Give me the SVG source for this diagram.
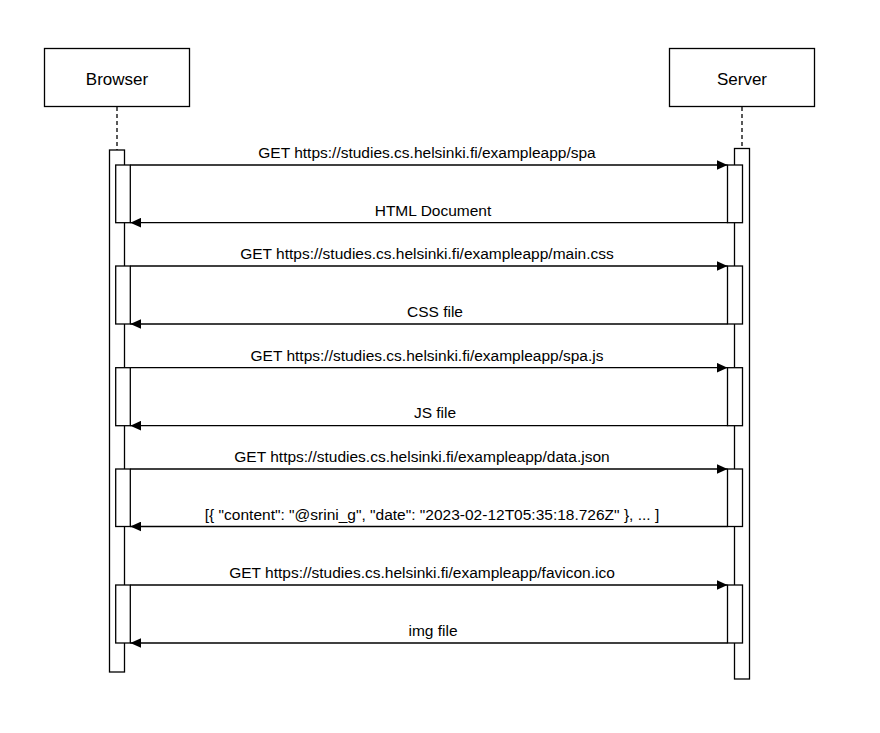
<svg xmlns="http://www.w3.org/2000/svg" width="880" height="733" viewBox="0 0 880 733">
<style>
.box{fill:#fff;stroke:#000;stroke-width:1.3}
.life{stroke:#000;stroke-width:1.3;stroke-dasharray:4 3;fill:none}
.msg{stroke:#000;stroke-width:1.3;fill:none}
.pt{font-family:"Liberation Sans",Arial,sans-serif;font-size:17px;fill:#000;text-anchor:middle}
.lbl{font-family:"Liberation Sans",Arial,sans-serif;font-size:15.5px;fill:#000;text-anchor:middle}
</style>
<defs>
<marker id="ah" viewBox="0 0 11 10" refX="11" refY="5" markerWidth="11" markerHeight="10" markerUnits="userSpaceOnUse" orient="auto">
<path d="M0,0 L11,5 L0,10 Z" fill="#000"/>
</marker>
</defs>
<rect width="880" height="733" fill="#fff"/>
<g id="browser">
<rect class="box" x="44.5" y="48.5" width="145" height="58"/>
<text class="pt" x="117" y="85">Browser</text>
<line class="life" x1="117" y1="107" x2="117" y2="150"/>
<rect class="box" x="109.5" y="150" width="15" height="522"/>
<rect class="box" x="115.7" y="165" width="14.6" height="57.7"/>
<rect class="box" x="115.7" y="266" width="14.6" height="58"/>
<rect class="box" x="115.7" y="367.7" width="14.6" height="58"/>
<rect class="box" x="115.7" y="469" width="14.6" height="57.5"/>
<rect class="box" x="115.7" y="585" width="14.6" height="58"/>
</g>
<g id="server">
<rect class="box" x="669.5" y="48.5" width="145" height="58"/>
<text class="pt" x="742" y="85">Server</text>
<line class="life" x1="742" y1="107" x2="742" y2="148.5"/>
<rect class="box" x="734.5" y="148.5" width="15" height="530.5"/>
<rect class="box" x="727.5" y="165" width="15" height="57.7"/>
<rect class="box" x="727.5" y="266" width="15" height="58"/>
<rect class="box" x="727.5" y="367.7" width="15" height="58"/>
<rect class="box" x="727.5" y="469" width="15" height="57.5"/>
<rect class="box" x="727.5" y="585" width="15" height="58"/>
</g>
<g id="connectors">
<line class="msg" x1="130.3" y1="165" x2="727.5" y2="165" marker-end="url(#ah)"/>
<line class="msg" x1="727.5" y1="222.7" x2="130.3" y2="222.7" marker-end="url(#ah)"/>
<line class="msg" x1="130.3" y1="266" x2="727.5" y2="266" marker-end="url(#ah)"/>
<line class="msg" x1="727.5" y1="324" x2="130.3" y2="324" marker-end="url(#ah)"/>
<line class="msg" x1="130.3" y1="367.7" x2="727.5" y2="367.7" marker-end="url(#ah)"/>
<line class="msg" x1="727.5" y1="425.7" x2="130.3" y2="425.7" marker-end="url(#ah)"/>
<line class="msg" x1="130.3" y1="469" x2="727.5" y2="469" marker-end="url(#ah)"/>
<line class="msg" x1="727.5" y1="526.5" x2="130.3" y2="526.5" marker-end="url(#ah)"/>
<line class="msg" x1="130.3" y1="585" x2="727.5" y2="585" marker-end="url(#ah)"/>
<line class="msg" x1="727.5" y1="643" x2="130.3" y2="643" marker-end="url(#ah)"/>
<text class="lbl" x="427" y="158">GET https://studies.cs.helsinki.fi/exampleapp/spa</text>
<text class="lbl" x="433" y="216">HTML Document</text>
<text class="lbl" x="427" y="259">GET https://studies.cs.helsinki.fi/exampleapp/main.css</text>
<text class="lbl" x="435" y="317">CSS file</text>
<text class="lbl" x="427" y="361">GET https://studies.cs.helsinki.fi/exampleapp/spa.js</text>
<text class="lbl" x="435" y="418">JS file</text>
<text class="lbl" x="422" y="462">GET https://studies.cs.helsinki.fi/exampleapp/data.json</text>
<text class="lbl" x="432" y="520">[{ "content": "@srini_g", "date": "2023-02-12T05:35:18.726Z" }, ... ]</text>
<text class="lbl" x="422" y="578">GET https://studies.cs.helsinki.fi/exampleapp/favicon.ico</text>
<text class="lbl" x="433" y="636">img file</text>
</g>
</svg>
